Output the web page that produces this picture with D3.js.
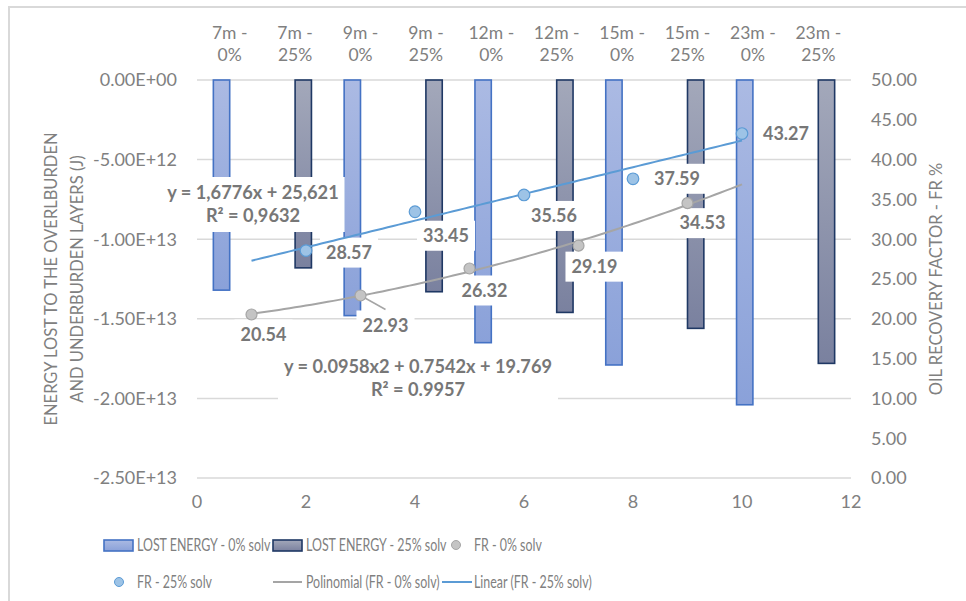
<!DOCTYPE html>
<html><head><meta charset="utf-8">
<script src="https://cdn.jsdelivr.net/npm/d3@7"></script>
<style>body{margin:0;background:#fff;} svg text{font-family:Lato, "Open Sans", sans-serif;}</style>
</head><body><svg id="c" width="966" height="601"></svg>
<script>
// ---------- data ----------
const categories = ["7m - 0%","7m - 25%","9m - 0%","9m - 25%","12m - 0%","12m - 25%","15m - 0%","15m - 25%","23m - 0%","23m - 25%"];
const lostEnergy0  = [-1.32e13, null, -1.48e13, null, -1.65e13, null, -1.79e13, null, -2.04e13, null];
const lostEnergy25 = [null, -1.18e13, null, -1.33e13, null, -1.46e13, null, -1.56e13, null, -1.78e13];
const frX0  = [1, 3, 5, 7, 9];
const fr0   = [20.54, 22.93, 26.32, 29.19, 34.53];
const frX25 = [2, 4, 6, 8, 10];
const fr25  = [28.57, 33.45, 35.56, 37.59, 43.27];
const polyCoef = [19.769, 0.7542, 0.0958];
const linCoef  = [25.621, 1.6776];
const trendRange = [1, 10];
const polyEq = ["y = 0.0958x2 + 0.7542x + 19.769", "R² = 0.9957"];
const linEq  = ["y = 1,6776x + 25,621", "R² = 0,9632"];
const leftTicks  = [0, -5e12, -1e13, -1.5e13, -2e13, -2.5e13];
const rightTicks = [0, 5, 10, 15, 20, 25, 30, 35, 40, 45, 50];
const xTicks = [0, 2, 4, 6, 8, 10, 12];
const seriesNames = ["LOST ENERGY - 0% solv", "LOST ENERGY - 25% solv", "FR - 0% solv", "FR - 25% solv", "Polinomial (FR - 0% solv)", "Linear (FR - 25% solv)"];
const leftTitle = ["ENERGY LOST TO THE OVERLBURDEN", "AND UNDERBURDEN LAYERS (J)"];
const rightTitle = "OIL RECOVERY FACTOR  - FR %";

// ---------- layout ----------
const svg = d3.select("#c");
const L = 197, R = 851, T = 80, B = 478;
const xLin = d3.scaleLinear().domain([0, 12]).range([L, R]);
const xBand = d3.scaleBand().domain(categories).range([L, R]).padding(0);
const xSub = d3.scaleBand().domain([0, 1]).range([0, xBand.bandwidth()]).paddingInner(0).paddingOuter(1);
const yL = d3.scaleLinear().domain([-2.5e13, 0]).range([B, T]);
const yR = d3.scaleLinear().domain([0, 50]).range([B, T]);
const gray = "#808080", labelGray = "#777777";

// chart border
svg.append("rect").attr("x", 9).attr("y", 7).attr("width", 980).attr("height", 620)
  .attr("fill", "none").attr("stroke", "#d9d9d9").attr("stroke-width", 2);

// gradients
const defs = svg.append("defs");
function grad(id, c1, c2) {
  const g = defs.append("linearGradient").attr("id", id).attr("x1", 0).attr("y1", 0).attr("x2", 0).attr("y2", 1);
  g.append("stop").attr("offset", "0%").attr("stop-color", c1);
  g.append("stop").attr("offset", "100%").attr("stop-color", c2);
}
grad("g0", "#abbae3", "#8aa1d9");
grad("g25", "#a3a8ba", "#7a819f");

// gridlines
svg.append("g").selectAll("line").data(leftTicks).join("line")
  .attr("x1", L).attr("x2", R).attr("y1", d => yL(d)).attr("y2", d => yL(d))
  .attr("stroke", "#d9d9d9").attr("stroke-width", 1.5);

// left tick labels
function fmtE(v) {
  let s = v.toExponential(2).toUpperCase();
  return s.replace(/E([+-])(\d)$/, "E$10$2");
}
svg.append("g").selectAll("text").data(leftTicks).join("text")
  .attr("x", 177).attr("y", d => yL(d)).attr("dy", "0.35em").attr("text-anchor", "end")
  .attr("fill", gray).attr("font-size", 18).text(fmtE);
// right tick labels
svg.append("g").selectAll("text").data(rightTicks).join("text")
  .attr("x", 871).attr("y", d => yR(d)).attr("dy", "0.35em").attr("text-anchor", "start")
  .attr("fill", gray).attr("font-size", 18).text(d => d3.format(".2f")(d));
// bottom tick labels
svg.append("g").selectAll("text").data(xTicks).join("text")
  .attr("x", d => xLin(d)).attr("y", 502).attr("dy", "0.35em").attr("text-anchor", "middle")
  .attr("fill", gray).attr("font-size", 18).text(d => d);
// top category labels
const cat = svg.append("g").selectAll("text").data(categories).join("text")
  .attr("text-anchor", "middle").attr("fill", gray).attr("font-size", 17.5);
cat.each(function(d) {
  const parts = d.split(" - ");
  const cx = xBand(d) + xBand.bandwidth() / 2;
  d3.select(this).append("tspan").attr("x", cx).attr("y", 39).text(parts[0] + " -");
  d3.select(this).append("tspan").attr("x", cx).attr("y", 61).text(parts[1]);
});

// axis titles
const lt = svg.append("text").attr("transform", "translate(51,279) rotate(-90)")
  .attr("text-anchor", "middle").attr("fill", gray).attr("font-size", 16.5);
lt.append("tspan").attr("x", 0).attr("y", 0).attr("dy", "0.35em").text(leftTitle[0]);
lt.append("tspan").attr("x", 0).attr("y", 26).attr("dy", "0.35em").text(leftTitle[1]);
svg.append("text").attr("transform", "translate(936,279) rotate(-90)")
  .attr("text-anchor", "middle").attr("dy", "0.35em").attr("fill", gray).attr("font-size", 16.5).text(rightTitle);

// bars
function bars(vals, si, fill, stroke) {
  svg.append("g").selectAll("rect")
    .data(categories.map((c, i) => ({c, v: vals[i]})).filter(d => d.v != null))
    .join("rect")
    .attr("x", d => xBand(d.c) + xSub(si)).attr("width", xSub.bandwidth())
    .attr("y", d => yL(0)).attr("height", d => yL(d.v) - yL(0))
    .attr("fill", fill).attr("stroke", stroke).attr("stroke-width", 1.6);
}
bars(lostEnergy0, 0, "url(#g0)", "#4472c4");
bars(lostEnergy25, 1, "url(#g25)", "#1f3864");

// label boxes & labels (drawn above bars)
const boxLayer = svg.append("g");
const lineLayer = svg.append("g");
const textLayer = svg.append("g");

function addLabel(x, y, txt, size) {
  const t = textLayer.append("text").attr("x", x).attr("y", y).attr("dy", "0.35em")
    .attr("text-anchor", "middle").attr("font-weight", "bold").attr("fill", labelGray)
    .attr("font-size", size).text(txt);
  const w = t.node().getComputedTextLength();
  boxLayer.append("rect").attr("x", x - w / 2 - 6).attr("y", y - 15).attr("width", w + 12).attr("height", 30).attr("fill", "#fff");
}

// trendlines
const pts = d3.range(trendRange[0], trendRange[1] + 0.0001, 0.1);
const poly = x => polyCoef[0] + polyCoef[1] * x + polyCoef[2] * x * x;
const lin = x => linCoef[0] + linCoef[1] * x;
const lineGen = f => d3.line().x(d => xLin(d)).y(d => yR(f(d)));
lineLayer.append("path").attr("d", lineGen(poly)(pts)).attr("fill", "none").attr("stroke", "#a5a5a5").attr("stroke-width", 2);
lineLayer.append("path").attr("d", lineGen(lin)(pts)).attr("fill", "none").attr("stroke", "#5b9bd5").attr("stroke-width", 2);

// leader line for 22.93
lineLayer.append("line").attr("x1", xLin(frX0[1])).attr("y1", yR(fr0[1]))
  .attr("x2", xLin(frX0[1]) + 25).attr("y2", yR(fr0[1]) + 14).attr("stroke", "#a5a5a5").attr("stroke-width", 1.5);

// markers
lineLayer.append("g").selectAll("circle").data(frX0.map((x, i) => [x, fr0[i]])).join("circle")
  .attr("cx", d => xLin(d[0])).attr("cy", d => yR(d[1])).attr("r", 5.5)
  .attr("fill", "#c4c4c4").attr("stroke", "#a5a5a5").attr("stroke-width", 1.2);
lineLayer.append("g").selectAll("circle").data(frX25.map((x, i) => [x, fr25[i]])).join("circle")
  .attr("cx", d => xLin(d[0])).attr("cy", d => yR(d[1])).attr("r", 5.8)
  .attr("fill", "#9dc3e6").attr("stroke", "#5b9bd5").attr("stroke-width", 1.2);

// data labels
const off0 = [[12, 20], [25, 30], [15, 22], [16, 21], [15, 20]];
const off25 = [[43, 2], [31, 24], [30, 21], [44, 0], [44, 0]];
frX0.forEach((x, i) => addLabel(xLin(x) + off0[i][0], yR(fr0[i]) + off0[i][1], d3.format(".2f")(fr0[i]), 18));
frX25.forEach((x, i) => addLabel(xLin(x) + off25[i][0], yR(fr25[i]) + off25[i][1], d3.format(".2f")(fr25[i]), 18));

// equations
function addEq(cx, cy, lines) {
  let maxW = 0;
  lines.forEach((s, i) => {
    const t = textLayer.append("text").attr("x", cx).attr("y", cy + i * 23).attr("dy", "0.35em")
      .attr("text-anchor", "middle").attr("font-weight", "bold").attr("fill", labelGray)
      .attr("font-size", 18.2).text(s);
    maxW = Math.max(maxW, t.node().getComputedTextLength());
  });
  boxLayer.append("rect").attr("x", cx - maxW / 2 - 6).attr("y", cy - 16).attr("width", maxW + 12).attr("height", 23 + 32).attr("fill", "#fff");
}
addEq(253, 193, linEq);
addEq(418, 367, polyEq);

// legend
const lg = svg.append("g");
function legText(x, y, s) {
  lg.append("text").attr("transform", `translate(${x},${y}) scale(0.73,1)`).attr("dy", "0.35em")
    .attr("font-size", 17).attr("fill", gray).text(s);
}
lg.append("rect").attr("x", 104).attr("y", 540).attr("width", 29).attr("height", 11).attr("fill", "url(#g0)").attr("stroke", "#4472c4").attr("stroke-width", 1.6);
legText(137, 545, seriesNames[0]);
lg.append("rect").attr("x", 273).attr("y", 540).attr("width", 29).attr("height", 11).attr("fill", "url(#g25)").attr("stroke", "#1f3864").attr("stroke-width", 1.6);
legText(306, 545, seriesNames[1]);
lg.append("circle").attr("cx", 456).attr("cy", 545).attr("r", 4.5).attr("fill", "#c4c4c4").attr("stroke", "#a5a5a5");
legText(474, 545, seriesNames[2]);
lg.append("circle").attr("cx", 119).attr("cy", 582).attr("r", 4.5).attr("fill", "#9dc3e6").attr("stroke", "#5b9bd5");
legText(137, 582, seriesNames[3]);
lg.append("line").attr("x1", 273).attr("x2", 302).attr("y1", 582).attr("y2", 582).attr("stroke", "#a5a5a5").attr("stroke-width", 2);
legText(306, 582, seriesNames[4]);
lg.append("line").attr("x1", 442).attr("x2", 472).attr("y1", 582).attr("y2", 582).attr("stroke", "#5b9bd5").attr("stroke-width", 2);
legText(474, 582, seriesNames[5]);
</script></body></html>
